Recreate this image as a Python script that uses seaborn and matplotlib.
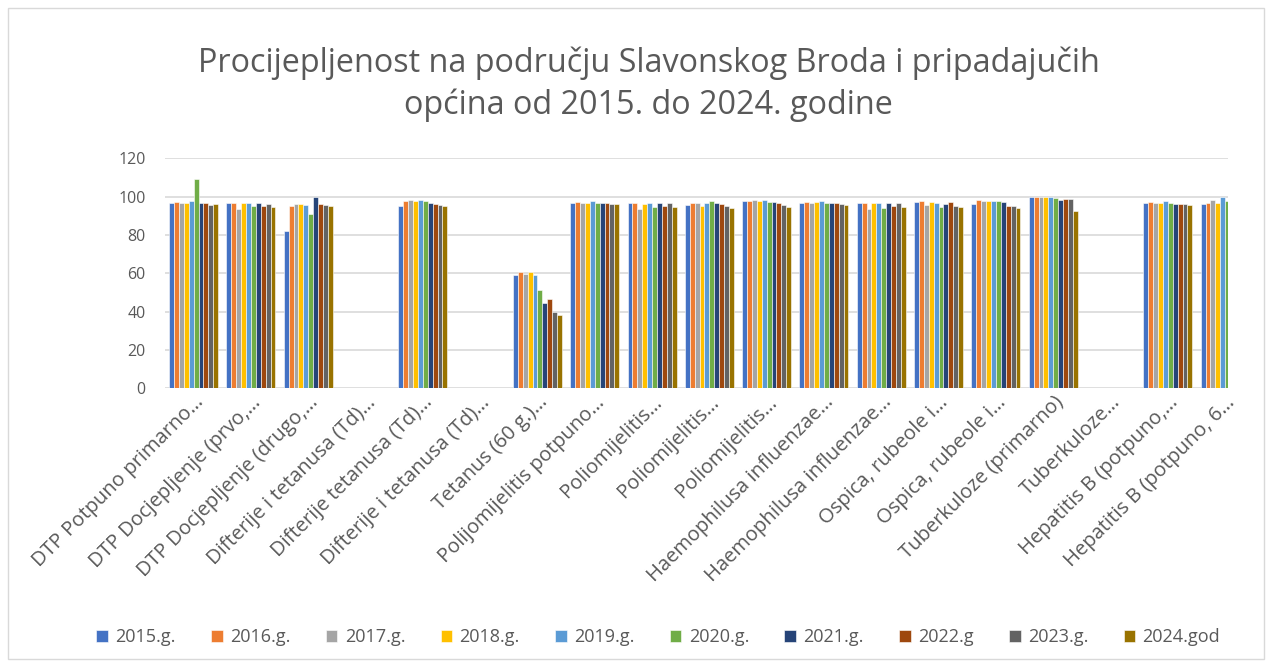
import numpy as np
import pandas as pd
import matplotlib
matplotlib.use("Agg")
import matplotlib.pyplot as plt
from matplotlib.patches import Rectangle
import seaborn as sns

nan = np.nan

categories = [
    "DTP Potpuno primarno…",
    "DTP Docjepljenje (prvo,…",
    "DTP Docjepljenje (drugo,…",
    "Difterije i tetanusa (Td)…",
    "Difterije tetanusa (Td)…",
    "Difterije i tetanusa (Td)…",
    "Tetanus (60 g.)…",
    "Polijomijelitis potpuno…",
    "Poliomijelitis…",
    "Poliomijelitis…",
    "Poliomijelitis…",
    "Haemophilusa influenzae…",
    "Haemophilusa influenzae…",
    "Ospica, rubeole i…",
    "Ospica, rubeole i…",
    "Tuberkuloze (primarno)",
    "Tuberkuloze…",
    "Hepatitis B (potpuno,…",
    "Hepatitis B (potpuno, 6…",
]

years = ["2015.g.", "2016.g.", "2017.g.", "2018.g.", "2019.g.",
         "2020.g.", "2021.g.", "2022.g", "2023.g.", "2024.god"]

v2015 = [96.5, 96.5, 82.0, nan, 95.0, nan, 59.3, 96.5, 96.5, 95.7, 97.9, 96.7, 96.5, 97.4, 96.2, 99.8, nan, 96.7, 96.2]
v2016 = [97.2, 96.5, 95.3, nan, 97.6, nan, 60.7, 97.2, 96.5, 96.5, 97.6, 97.2, 96.5, 97.6, 98.3, 99.8, nan, 97.1, 97.0]
v2017 = [96.5, 93.6, 96.2, nan, 98.4, nan, 59.5, 96.5, 93.6, 96.7, 98.4, 96.7, 93.6, 95.8, 97.6, 99.8, nan, 96.5, 98.4]
v2018 = [96.9, 96.5, 96.2, nan, 97.6, nan, 60.9, 96.9, 96.2, 95.3, 97.6, 97.1, 96.5, 97.2, 97.6, 99.8, nan, 96.9, 96.5]
v2019 = [97.6, 96.5, 95.8, nan, 98.4, nan, 59.3, 97.6, 96.7, 96.7, 98.4, 97.8, 96.7, 96.7, 97.8, 99.8, nan, 97.6, 100.0]
v2020 = [109.2, 95.3, 91.0, nan, 97.6, nan, 51.2, 96.7, 94.6, 97.6, 97.4, 96.7, 94.1, 94.8, 97.8, 99.5, nan, 96.5, 98.0]
v2021 = [96.5, 96.7, 99.8, nan, 97.0, nan, 44.3, 96.5, 96.7, 96.7, 97.2, 96.7, 96.7, 96.2, 97.2, 98.1, nan, 96.2, nan]
v2022 = [96.5, 95.3, 96.2, nan, 96.2, nan, 46.4, 96.5, 95.3, 96.0, 96.7, 96.5, 95.3, 97.1, 95.2, 99.0, nan, 96.2, nan]
v2023 = [95.8, 96.4, 95.5, nan, 95.5, nan, 39.6, 96.0, 96.5, 95.2, 95.7, 96.0, 96.5, 95.2, 95.3, 98.8, nan, 96.2, nan]
v2024 = [96.2, 94.6, 95.3, nan, 95.0, nan, 38.4, 96.0, 94.6, 94.3, 94.6, 95.8, 94.6, 94.6, 94.3, 92.4, nan, 95.7, nan]

series = [v2015, v2016, v2017, v2018, v2019, v2020, v2021, v2022, v2023, v2024]

palette = ["#4472C4", "#ED7D31", "#A5A5A5", "#FFC000", "#5B9BD5",
           "#70AD47", "#264478", "#9E480E", "#636363", "#997300"]

title = "Procijepljenost na području Slavonskog Broda i pripadajučih\nopćina od 2015. do 2024. godine"

rows = []
for year, vals in zip(years, series):
    for i, v in enumerate(vals):
        rows.append({"kat": i, "godina": year, "vrijednost": v})
df = pd.DataFrame(rows)

sns.set_theme(style="white")
plt.rcParams["font.family"] = ["Open Sans", "DejaVu Sans"]

text_col = "#595959"
grid_col = "#D9D9D9"

fig = plt.figure(figsize=(12.72, 6.67), dpi=100)
ax = fig.add_axes([0.1297, 0.4178, 0.8357, 0.3446])

sns.barplot(data=df, x="kat", y="vrijednost", hue="godina",
            order=list(range(len(categories))), hue_order=years,
            palette=palette, width=0.855, saturation=1,
            edgecolor="white", linewidth=0.4, ax=ax)

ax.set_ylim(0, 120)
ax.set_yticks(range(0, 121, 20))
ax.set_xlim(-0.5, 18.05)
ax.yaxis.grid(True, color=grid_col, linewidth=1.2)
ax.set_axisbelow(True)
for s in ax.spines.values():
    s.set_visible(False)
ax.set_xlabel("")
ax.set_ylabel("")
ax.tick_params(axis="both", length=0, colors=text_col, labelsize=11.5)
ax.tick_params(axis="y", pad=14)
ax.tick_params(axis="x", pad=3)
ax.set_xticks(range(len(categories)))
ax.set_xticklabels(categories, rotation=45, ha="right", va="top",
                   rotation_mode="anchor", color=text_col, fontsize=14.5)

handles, labels = ax.get_legend_handles_labels()
ax.get_legend().remove()
fig.legend(handles, labels, ncol=10, loc="center", bbox_to_anchor=(0.5175, 0.045),
           frameon=False, fontsize=13, handlelength=0.65, handleheight=0.65,
           handletextpad=0.4, columnspacing=1.95, labelcolor=text_col)

fig.text(0.51, 0.8735, title, ha="center", va="center", fontsize=23.3,
         color=text_col, linespacing=1.33)

fig.add_artist(Rectangle((0.006, 0.012), 0.988, 0.976, transform=fig.transFigure,
                         fill=False, edgecolor=grid_col, linewidth=1))

fig.savefig("out.png", dpi=100, facecolor="white")
